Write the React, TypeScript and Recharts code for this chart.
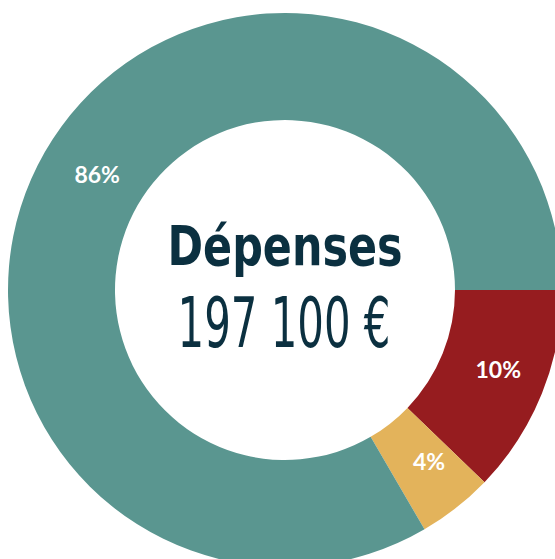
import { PieChart, Pie, Cell } from "recharts";

// shares as drawn in the picture (angles), with the printed labels
const categories = ["Rouge", "Jaune", "Vert"];
const shares = [12.2, 4.4, 83.4];
const labels = ["10%", "4%", "86%"];
const colors = ["#961c1f", "#e3b35b", "#5a9690"];

const title = "Dépenses";
const total = "197 100 €";

const data = categories.map((name, i) => ({
  name,
  value: shares[i],
  label: labels[i],
}));

const RADIAN = Math.PI / 180;

function SliceLabel(props: any) {
  const { cx, cy, midAngle, innerRadius, outerRadius, index } = props;
  const r = (innerRadius + outerRadius) / 2;
  const x = cx + r * Math.cos(-midAngle * RADIAN) + 6;
  const y = cy + r * Math.sin(-midAngle * RADIAN) - 5;
  return (
    <text
      x={x}
      y={y}
      fill="#ffffff"
      textAnchor="middle"
      dominantBaseline="central"
      fontFamily="Lato, 'Noto Sans', sans-serif"
      fontWeight={700}
      fontSize={23}
    >
      {labels[index]}
    </text>
  );
}

export default function App() {
  return (
    <div
      style={{
        position: "absolute",
        left: 0,
        top: 0,
        width: 555,
        height: 559,
        background: "#ffffff",
      }}
    >
      <PieChart
        width={555}
        height={559}
        margin={{ top: 0, right: 0, bottom: 0, left: 0 }}
      >
        <Pie
          data={data}
          dataKey="value"
          nameKey="name"
          cx={285}
          cy={290}
          innerRadius={170}
          outerRadius={277}
          startAngle={0}
          endAngle={-360}
          stroke="none"
          labelLine={false}
          label={SliceLabel}
          isAnimationActive={false}
        >
          {data.map((d, i) => (
            <Cell key={d.name} fill={colors[i]} />
          ))}
        </Pie>
      </PieChart>

      <svg
        width={555}
        height={559}
        style={{ position: "absolute", left: 0, top: 0, pointerEvents: "none" }}
      >
        <text
          x={285}
          y={265}
          textAnchor="middle"
          fill="#0b3040"
          fontFamily="'Liberation Sans Narrow', 'DejaVu Sans Condensed', sans-serif"
          fontWeight={700}
          fontSize={56}
          textLength={235}
          lengthAdjust="spacingAndGlyphs"
        >
          {title}
        </text>
        <text
          x={284}
          y={347}
          textAnchor="middle"
          fill="#0b3040"
          fontFamily="'Liberation Sans Narrow', 'DejaVu Sans Condensed', sans-serif"
          fontWeight={400}
          fontSize={70}
          textLength={213}
          lengthAdjust="spacingAndGlyphs"
        >
          {total}
        </text>
      </svg>
    </div>
  );
}
